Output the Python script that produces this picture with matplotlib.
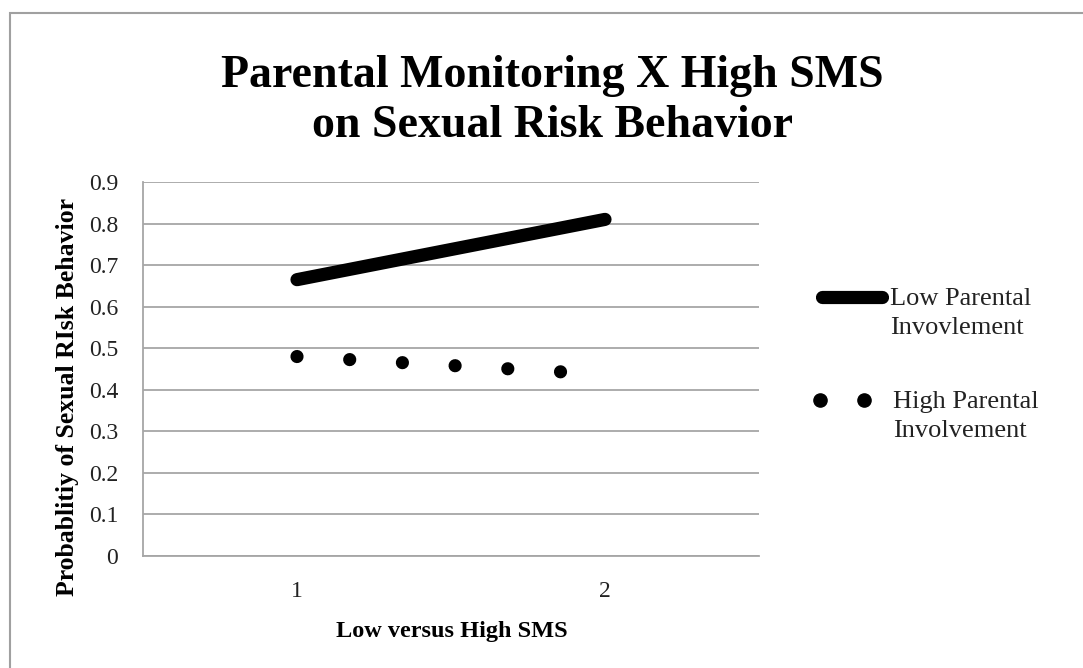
import matplotlib.pyplot as plt
from matplotlib.patches import Rectangle
from matplotlib.lines import Line2D

# data
sms_levels = [1, 2]
low_involvement = [0.665, 0.81]
high_involvement = [0.48, 0.437]
y_ticks = [0, 0.1, 0.2, 0.3, 0.4, 0.5, 0.6, 0.7, 0.8, 0.9]
series_labels = ["Low Parental\nInvovlement", "High Parental\nInvolvement"]

plt.rcParams['font.family'] = ['Liberation Serif', 'DejaVu Serif']

fig = plt.figure(figsize=(10.83, 6.68), dpi=100)
W, H = 1083, 668


def fx(px):
    return px / W


def fy(py):
    return 1 - py / H


# outer chart frame
fig.patches.append(Rectangle((fx(10), -0.1), 1.2, fy(13) + 0.1, transform=fig.transFigure,
                             fill=False, edgecolor='#a0a0a0', linewidth=1.5))

ax = fig.add_axes([fx(143), fy(556), fx(759 - 143), (556 - 182) / H])

grid_color = '#a6a6a6'
dots = (0, (0.001, 4.0))
ax.plot(sms_levels, low_involvement, color='black', linewidth=9.5, solid_capstyle='round')
ax.plot(sms_levels, high_involvement, color='black', linewidth=9.5,
        linestyle=dots, dash_capstyle='round')

ax.set_xlim(0.5, 2.5)
ax.set_ylim(0, 0.9)
ax.set_yticks(y_ticks)
ax.set_yticklabels([f"{v:g}" for v in y_ticks])
ax.set_xticks(sms_levels)
ax.set_xticklabels([str(v) for v in sms_levels])
ax.grid(axis='y', color=grid_color, linewidth=1.3)
ax.set_axisbelow(True)
for side in ['top', 'right']:
    ax.spines[side].set_visible(False)
for side in ['left', 'bottom']:
    ax.spines[side].set_color(grid_color)
    ax.spines[side].set_linewidth(1.3)
ax.tick_params(axis='both', length=0, labelsize=17, colors='#222222')
ax.tick_params(axis='y', pad=18)
ax.tick_params(axis='x', pad=18)

ax.set_xlabel("Low versus High SMS", fontsize=17.5, fontweight='bold', va='center')
ax.xaxis.set_label_coords((452 - 143) / 616, (556 - 632) / 374)
ax.set_ylabel("Probablitiy of Sexual RIsk Behavior", fontsize=18.5, fontweight='bold',
              ha='center', va='center')
ax.yaxis.set_label_coords((68 - 143) / 616, (556 - 397) / 374)

fig.text(fx(552), fy(101), "Parental Monitoring X High SMS\non Sexual Risk Behavior",
         ha='center', va='center', fontsize=33, fontweight='bold', linespacing=1.25)

# legend drawn by hand so the keys sit on the first text line, as in the original
fig.add_artist(Line2D([fx(822), fx(882)], [fy(297), fy(297)], transform=fig.transFigure,
                      color='black', linewidth=9.5, solid_capstyle='round'))
fig.add_artist(Line2D([fx(820), fx(864)], [fy(400), fy(400)], transform=fig.transFigure,
                      color='black', linestyle='none', marker='o', markersize=9.5))
fig.text(fx(890), fy(288), series_labels[0], ha='left', va='top', fontsize=19,
         color='#222222', linespacing=1.4)
fig.text(fx(893), fy(391), series_labels[1], ha='left', va='top', fontsize=19,
         color='#222222', linespacing=1.4)

fig.savefig('out.png', dpi=100)
